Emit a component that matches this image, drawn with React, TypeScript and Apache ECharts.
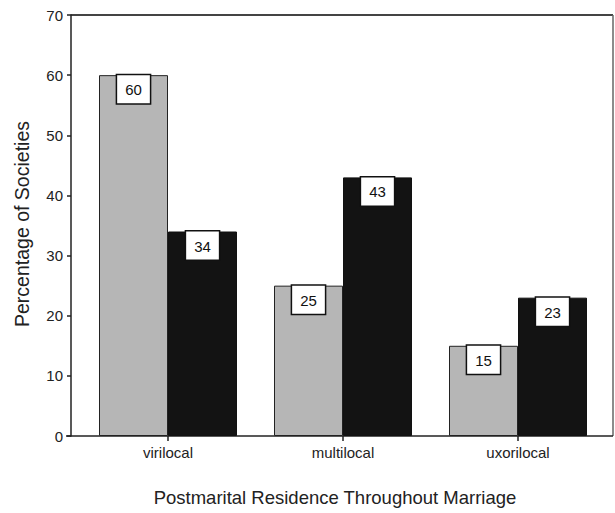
import React, { useEffect, useRef } from "react";
import * as echarts from "echarts";

const categories = ["virilocal", "multilocal", "uxorilocal"];
const seriesGray = [60, 25, 15];
const seriesBlack = [34, 43, 23];
const yTicks = { min: 0, max: 70, interval: 10 };
const xTitle = "Postmarital Residence Throughout Marriage";
const yTitle = "Percentage of Societies";

const FONT = "'Liberation Sans', Arial, sans-serif";

export default function App() {
  const ref = useRef<HTMLDivElement>(null);
  useEffect(() => {
    if (!ref.current) return;
    const chart = echarts.init(ref.current, undefined, { renderer: "svg" });
    const label = {
      show: true,
      position: "insideTop",
      distance: 0,
      backgroundColor: "#fff",
      borderColor: "#111",
      borderWidth: 1.5,
      padding: [7, 8, 6, 8],
      fontSize: 15,
      fontFamily: FONT,
      color: "#111",
    };
    chart.setOption({
      animation: false,
      backgroundColor: "#fff",
      textStyle: { fontFamily: FONT },
      grid: { left: 80.5, right: 9.5, top: 15, bottom: 77, containLabel: false },
      xAxis: {
        type: "category",
        data: categories,
        axisLine: { show: false },
        axisTick: { show: true, alignWithLabel: true, length: 5, lineStyle: { color: "#222", width: 1.5 } },
        axisLabel: { fontSize: 15, color: "#222", margin: 9, fontFamily: FONT },
      },
      yAxis: {
        type: "value",
        min: yTicks.min,
        max: yTicks.max,
        interval: yTicks.interval,
        offset: 9.5,
        axisLine: { show: true, lineStyle: { color: "#222", width: 1.5 } },
        axisTick: { show: true, length: 4, lineStyle: { color: "#222", width: 1.5 } },
        axisLabel: { fontSize: 15, color: "#222", margin: 8, fontFamily: FONT },
        splitLine: { show: false },
      },
      graphic: [
        { type: "line", shape: { x1: 71, y1: 15, x2: 613, y2: 15 }, style: { stroke: "#444", lineWidth: 2 } },
        { type: "line", shape: { x1: 613, y1: 15, x2: 613, y2: 436 }, style: { stroke: "#666", lineWidth: 1.5 } },
        { type: "line", shape: { x1: 66, y1: 436, x2: 613, y2: 436 }, style: { stroke: "#222", lineWidth: 1.5 } },
        {
          type: "text",
          x: 335,
          y: 497,
          style: { text: xTitle, fontSize: 18.5, fill: "#222", fontFamily: FONT, align: "center", verticalAlign: "middle" },
        },
        {
          type: "text",
          x: 22,
          y: 224,
          rotation: Math.PI / 2,
          style: { text: yTitle, fontSize: 19.5, fill: "#222", fontFamily: FONT, align: "center", verticalAlign: "middle" },
        },
      ],
      series: [
        {
          type: "bar",
          data: seriesGray,
          barWidth: 69,
          barGap: "0%",
          itemStyle: { color: "#b6b6b6", borderColor: "#222", borderWidth: 1 },
          label,
        },
        {
          type: "bar",
          data: seriesBlack,
          barWidth: 69,
          barGap: "0%",
          itemStyle: { color: "#131313", borderColor: "#111", borderWidth: 1 },
          label,
        },
      ],
    });
    return () => chart.dispose();
  }, []);
  return <div ref={ref} style={{ width: 615, height: 513, position: "absolute", left: 0, top: 0 }} />;
}
